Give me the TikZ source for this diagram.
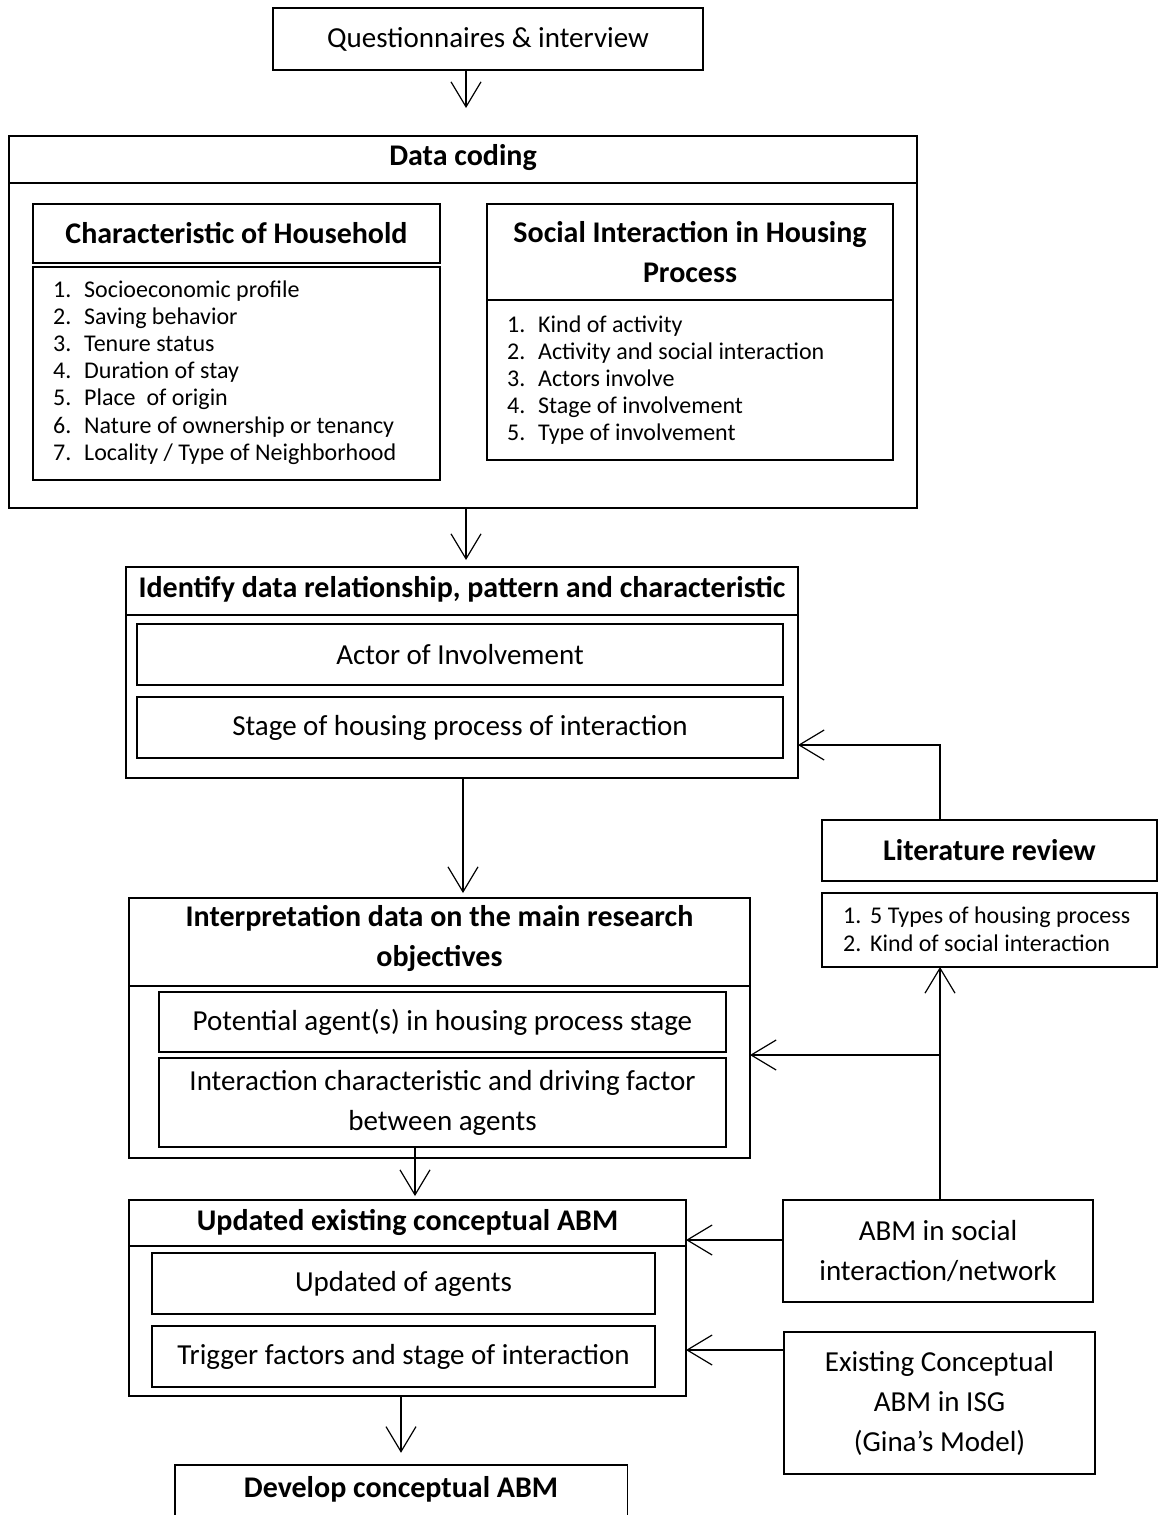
\documentclass[tikz,border=0pt]{standalone}
\usepackage{fontspec}
\setmainfont{Carlito}
\usetikzlibrary{arrows.meta}
\newcommand\dgReg{\fontsize{29}{40}\selectfont}
\newcommand\dgBold{\fontsize{30}{40}\selectfont\bfseries}
\newcommand\dgList{\fontsize{24}{27.2}\selectfont}
\newcommand\dgLit{\fontsize{24}{28}\selectfont}
\begin{document}
\begin{tikzpicture}[x=1pt,y=-1pt,
  box/.style={draw, line width=1.4pt, inner sep=0pt, outer sep=0pt, align=center, font=\dgReg},
  ttlbox/.style={box, font=\dgBold},
  frame/.style={draw, line width=1.3pt, inner sep=0pt, outer sep=0pt},
  ttl/.style={inner sep=0pt, align=center, font=\dgBold},
  lst/.style={inner sep=0pt, align=left, anchor=west},
  rule/.style={line width=1.3pt},
  arr/.style={line width=1.2pt, -{Straight Barb[length=25pt, width=30pt, line width=1.2pt]}}
]
\useasboundingbox (0,0) rectangle (1159,1515);

% source of data
\node[box, minimum width=430, minimum height=62] (q) at (488,39) {Questionnaires \& interview};

% data coding block
\node[frame, minimum width=908, minimum height=372] (dc) at (463,322) {};
\node[ttl] (dct) at (463,158) {Data coding};
\draw[rule] (dc.west |- 0,183) -- (dc.east |- 0,183);

\node[ttlbox, minimum width=407, minimum height=59] (cht) at (236.5,233.5) {Characteristic of Household};
\node[box, minimum width=407, minimum height=213] (chl) at (236.5,373.5) {};
\node[lst, font=\dgList] (chtext) at (53,372.5) {%
  \makebox[31pt][l]{1.}Socioeconomic profile\\
  \makebox[31pt][l]{2.}Saving behavior\\
  \makebox[31pt][l]{3.}Tenure status\\
  \makebox[31pt][l]{4.}Duration of stay\\
  \makebox[31pt][l]{5.}Place\ \ of origin\\
  \makebox[31pt][l]{6.}Nature of ownership or tenancy\\
  \makebox[31pt][l]{7.}Locality / Type of Neighborhood};

\node[ttlbox, minimum width=406, minimum height=96] (sit) at (690,252) {Social Interaction in Housing\\Process};
\node[box, minimum width=406, minimum height=160] (sil) at (690,380) {};
\node[lst, font=\dgList] (sitext) at (507,380) {%
  \makebox[31pt][l]{1.}Kind of activity\\
  \makebox[31pt][l]{2.}Activity and social interaction\\
  \makebox[31pt][l]{3.}Actors involve\\
  \makebox[31pt][l]{4.}Stage of involvement\\
  \makebox[31pt][l]{5.}Type of involvement};

% identification block
\node[frame, minimum width=672, minimum height=211] (idf) at (462,672.5) {};
\node[ttl] (idft) at (462,589) {Identify data relationship, pattern and characteristic};
\draw[rule] (idf.west |- 0,615) -- (idf.east |- 0,615);
\node[box, minimum width=646, minimum height=61] (a1) at (460,654.5) {Actor of Involvement};
\node[box, minimum width=646, minimum height=61] (a2) at (460,727.5) {Stage of housing process of interaction};

% literature review
\node[ttlbox, minimum width=335, minimum height=61] (lit) at (989.5,850.5) {Literature review};
\node[box, minimum width=335, minimum height=74] (litl) at (989.5,930) {};
\node[lst, font=\dgLit] (littext) at (843,929) {%
  \makebox[27pt][l]{1.}5 Types of housing process\\
  \makebox[27pt][l]{2.}Kind of social interaction};

% interpretation block
\node[frame, minimum width=621, minimum height=260] (interp) at (439.5,1028) {};
\node[ttl] (interpt) at (439.5,938) {Interpretation data on the main research\\objectives};
\draw[rule] (interp.west |- 0,986) -- (interp.east |- 0,986);
\node[box, minimum width=567, minimum height=60] (i1) at (442.5,1022) {Potential agent(s) in housing process stage};
\node[box, minimum width=567, minimum height=89] (i2) at (442.5,1102.5) {Interaction characteristic and driving factor\\between agents};

% updated model block
\node[frame, minimum width=557, minimum height=196] (upd) at (407.5,1298) {};
\node[ttl] (updt) at (407.5,1222) {Updated existing conceptual ABM};
\draw[rule] (upd.west |- 0,1246) -- (upd.east |- 0,1246);
\node[box, minimum width=503, minimum height=61] (u1) at (403.5,1283.5) {Updated of agents};
\node[box, minimum width=503, minimum height=61] (u2) at (403.5,1356.5) {Trigger factors and stage of interaction};

% external inputs
\node[box, minimum width=310, minimum height=102] (abm) at (938,1251) {ABM in social\\interaction/network};
\node[box, minimum width=311, minimum height=142] (ex) at (939.5,1403) {Existing Conceptual\\ABM in ISG\\(Gina's Model)};

% final step
\node[ttl, minimum width=452, minimum height=48] (dev) at (401,1489) {Develop conceptual ABM};
\draw[line width=1.4pt] (dev.west |- 0,1520) -- (dev.north west) -- (dev.north east) -- (dev.east |- 0,1520);

% connectors
\coordinate (jl) at (940,745);
\coordinate (jm) at (940,1055);
\draw[arr, shorten >=28pt] (466,0 |- q.south) -- (466,0 |- dc.north);
\draw[arr, shorten >=7pt] (466,0 |- dc.south) -- (466,0 |- idf.north);
\draw[arr, shorten >=5pt] (463,0 |- idf.south) -- (463,0 |- interp.north);
\draw[arr, shorten >=4pt] (415,0 |- i2.south) -- (415,0 |- upd.north);
\draw[arr, shorten >=12pt] (dev.north |- upd.south) -- (dev.north);
\draw[arr] (jl |- lit.north) -- (jl) -- (idf.east |- jl);
\draw[arr] (jm |- abm.north) -- (jm |- litl.south);
\draw[arr] (jm) -- (interp.east |- jm);
\draw[arr] (abm.west |- 0,1240) -- (upd.east |- 0,1240);
\draw[arr] (ex.west |- 0,1350) -- (upd.east |- 0,1350);
\end{tikzpicture}
\end{document}
